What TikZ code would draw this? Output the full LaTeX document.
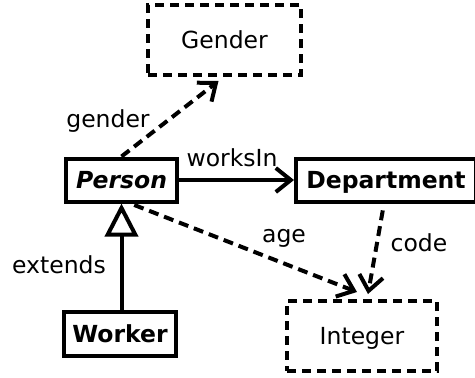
\documentclass[tikz,border=0pt]{standalone}
\usepackage{fontspec}
\setmainfont{DejaVu Sans}
\usetikzlibrary{arrows.meta}
\begin{document}
\begin{tikzpicture}[x=1pt,y=-1pt,
  every node/.style={font=\fontsize{23.5}{26}\selectfont},
  umlbox/.style={draw,line width=4pt,inner sep=0pt,text height=16pt,text depth=0pt},
  typebox/.style={umlbox,dash pattern=on 9pt off 6pt},
  link/.style={line width=4pt,-{Straight Barb[length=15pt,width=24pt,line width=4pt]}},
  dlink/.style={link,dash pattern=on 10pt off 6pt},
  inherit/.style={line width=4pt,-{Triangle[open,length=33pt,width=33pt,line width=4pt]}},
  lbl/.style={anchor=base,inner sep=0pt}]
\useasboundingbox (0,0) rectangle (475,378);
\clip (0,0) rectangle (475,378);
% classes
\node[typebox,minimum width=153pt,minimum height=70pt] (gender) at (224.5,40) {Gender};
\node[umlbox,minimum width=111pt,minimum height=43pt] (person) at (121.5,180) {\bfseries\itshape Person};
\node[umlbox,minimum width=180pt,minimum height=43pt] (dept) at (386,180) {\bfseries Department};
\node[umlbox,minimum width=112pt,minimum height=44pt] (worker) at (120,334) {\bfseries Worker};
\node[typebox,minimum width=150pt,minimum height=70pt] (integer) at (362,336) {Integer};
% associations
\draw[dlink] (person.north) -- ([xshift=-6pt,yshift=-4pt]gender.south);
\draw[link] (person.east) -- (dept.west);
\draw[dlink,shorten <=4pt] ([xshift=9pt]person.south) -- ([xshift=-5pt,yshift=7pt]integer.north);
\draw[dlink,shorten <=7pt] ([xshift=-2pt]dept.south) -- ([xshift=6pt,yshift=5pt]integer.north);
\draw[inherit] (worker.north -| person.south) -- (person.south);
% labels
\node[lbl] (lgender) at (108,127) {gender};
\node[lbl] (lworks) at (232,166) {worksIn};
\node[lbl] (lage) at (284,242) {age};
\node[lbl] (lcode) at (419,251) {code};
\node[lbl] (lext) at (59,273) {extends};
\end{tikzpicture}
\end{document}
